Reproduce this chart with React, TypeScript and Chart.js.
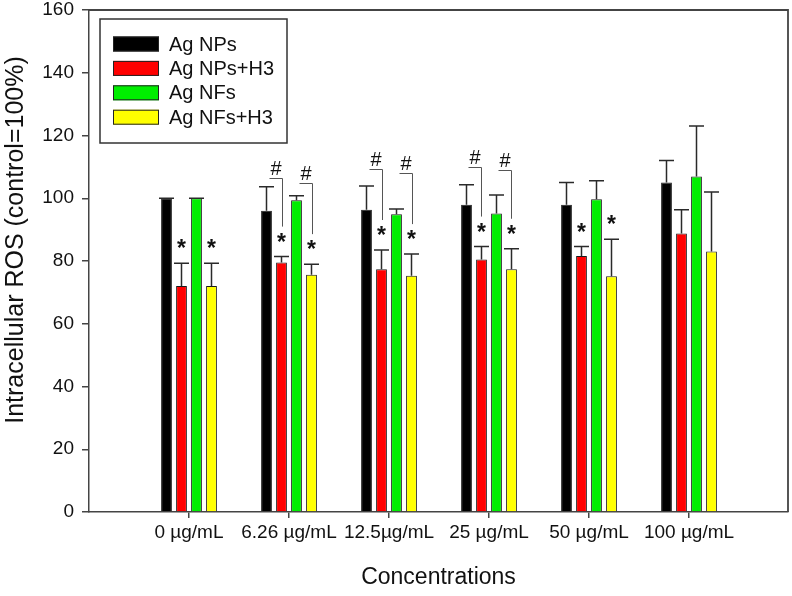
import React, { useEffect, useRef } from 'react';
import { Chart, registerables } from 'chart.js';

Chart.register(...registerables);

const categories = ['0 µg/mL', '6.26 µg/mL', '12.5µg/mL', '25 µg/mL', '50 µg/mL', '100 µg/mL'];
const seriesNames = ['Ag NPs', 'Ag NPs+H3', 'Ag NFs', 'Ag NFs+H3'];
const seriesColors = ['#000000', '#ff0000', '#00ee00', '#ffff00'];

const agNPs = [100, 96.0, 96.3, 97.9, 97.9, 105.0];
const agNPsErr = [0, 7.7, 7.6, 6.4, 7.1, 7.0];
const agNPsH3 = [72.0, 79.5, 77.4, 80.5, 81.6, 88.8];
const agNPsH3Err = [7.3, 1.9, 6.1, 4.1, 3.0, 7.5];
const agNFs = [100, 99.4, 94.9, 95.1, 99.7, 106.9];
const agNFsErr = [0, 1.4, 1.7, 5.9, 5.9, 16.1];
const agNFsH3 = [72.0, 75.6, 75.3, 77.4, 75.1, 83.0];
const agNFsH3Err = [7.3, 3.4, 6.9, 6.5, 11.8, 19.0];

const yMin = 0;
const yMax = 160;
const yStep = 20;

const xTitle = 'Concentrations';
const yTitle = 'Intracellular ROS (control=100%)';

// [category index, series index]
const starMarks = [
  [0, 1], [0, 3], [1, 1], [1, 3], [2, 1], [2, 3], [3, 1], [3, 3], [4, 1], [4, 3],
];
// [category index, series index, bracket level value]
const hashMarks = [
  [1, 1, 106.5], [1, 3, 104.9], [2, 1, 109.3], [2, 3, 108.0], [3, 1, 110.0], [3, 3, 109.0],
];

const FONT = "'Liberation Sans', Arial, sans-serif";
const AXIS = '#444444';
const TEXT = '#111111';

const values = [agNPs, agNPsH3, agNFs, agNFsH3];
const errors = [agNPsErr, agNPsH3Err, agNFsErr, agNFsH3Err];

const errorBarPlugin = {
  id: 'errorBars',
  afterDatasetsDraw(chart: any) {
    const ctx = chart.ctx;
    const y = chart.scales.y;
    ctx.save();
    ctx.strokeStyle = '#2a2a2a';
    ctx.lineWidth = 1.5;
    chart.data.datasets.forEach((ds: any, di: number) => {
      const meta = chart.getDatasetMeta(di);
      meta.data.forEach((el: any, i: number) => {
        const v = ds.data[i].y;
        const e = ds.errors[i];
        const capY = y.getPixelForValue(v + e);
        ctx.beginPath();
        ctx.moveTo(el.x, el.y);
        ctx.lineTo(el.x, capY);
        ctx.moveTo(el.x - 7.5, capY);
        ctx.lineTo(el.x + 7.5, capY);
        ctx.stroke();
      });
    });
    ctx.restore();
  },
};

const annotationPlugin = {
  id: 'sigMarks',
  afterDatasetsDraw(chart: any) {
    const ctx = chart.ctx;
    const y = chart.scales.y;
    const starCenter = (c: number, s: number) => {
      const ds: any = chart.data.datasets[s];
      return y.getPixelForValue(ds.data[c].y + ds.errors[c]) - 20;
    };
    ctx.save();
    ctx.fillStyle = TEXT;
    ctx.textAlign = 'center';
    ctx.textBaseline = 'alphabetic';
    ctx.font = `bold 23px ${FONT}`;
    starMarks.forEach(([c, s]) => {
      const el: any = chart.getDatasetMeta(s).data[c];
      ctx.fillText('*', el.x, starCenter(c, s) + 13);
    });
    ctx.strokeStyle = '#555555';
    ctx.lineWidth = 1;
    ctx.font = `20px ${FONT}`;
    hashMarks.forEach(([c, s, lv]) => {
      const el: any = chart.getDatasetMeta(s).data[c];
      const hy = Math.round(y.getPixelForValue(lv)) + 0.5;
      const x = Math.round(el.x) + 0.5;
      ctx.beginPath();
      ctx.moveTo(x - 13, hy);
      ctx.lineTo(x, hy);
      ctx.lineTo(x, starCenter(c, s) - 10);
      ctx.stroke();
      ctx.fillText('#', x - 6.5, hy - 4);
    });
    ctx.restore();
  },
};

const framePlugin = {
  id: 'frameAndLegend',
  afterDraw(chart: any) {
    const ctx = chart.ctx;
    const ca = chart.chartArea;
    ctx.save();
    ctx.strokeStyle = AXIS;
    ctx.lineWidth = 1.8;
    ctx.beginPath();
    ctx.moveTo(ca.left, ca.top);
    ctx.lineTo(ca.right, ca.top);
    ctx.lineTo(ca.right, ca.bottom);
    ctx.stroke();

    // y axis title
    ctx.save();
    ctx.translate(16, 240);
    ctx.rotate(-Math.PI / 2);
    ctx.font = `25px ${FONT}`;
    ctx.fillStyle = TEXT;
    ctx.textAlign = 'center';
    ctx.textBaseline = 'middle';
    ctx.fillText(yTitle, 0, 0);
    ctx.restore();

    // legend
    const lx = ca.left + 11;
    const ly = ca.top + 9;
    ctx.strokeStyle = '#333333';
    ctx.lineWidth = 1.5;
    ctx.strokeRect(lx, ly, 187, 124);
    ctx.font = `20px ${FONT}`;
    ctx.textBaseline = 'middle';
    ctx.textAlign = 'left';
    chart.data.datasets.forEach((ds: any, i: number) => {
      const cy = ca.top + 34 + 24.4 * i;
      ctx.fillStyle = ds.backgroundColor;
      ctx.fillRect(lx + 13, cy - 7.5, 46, 15);
      ctx.lineWidth = 1;
      ctx.strokeStyle = '#222222';
      ctx.strokeRect(lx + 13.5, cy - 7, 45, 14);
      ctx.fillStyle = TEXT;
      ctx.fillText(ds.label, lx + 69, cy + 1);
    });
    ctx.restore();
  },
};

export default function App() {
  const ref = useRef<HTMLCanvasElement | null>(null);

  useEffect(() => {
    if (!ref.current) return;
    Chart.defaults.font.family = FONT;
    const datasets = seriesNames.map((name, s) => ({
      label: name,
      data: values[s].map((v, i) => ({ x: i, y: v })),
      errors: errors[s],
      backgroundColor: seriesColors[s],
      borderColor: '#1a1a1a',
      borderWidth: 1,
      categoryPercentage: 0.6,
      barPercentage: 0.72,
    }));
    const chart = new Chart(ref.current, {
      type: 'bar',
      data: { datasets } as any,
      options: {
        responsive: false,
        animation: false,
        layout: { padding: { top: 10, right: 4, left: 0, bottom: 0 } },
        plugins: { legend: { display: false }, tooltip: { enabled: false } },
        scales: {
          x: {
            type: 'linear',
            min: -1,
            max: 5.99,
            offset: false,
            afterBuildTicks: (s: any) => {
              s.ticks = categories.map((_, i) => ({ value: i }));
            },
            afterFit: (s: any) => {
              s.height = 84;
              s.paddingLeft = 0;
              s.paddingRight = 0;
            },
            ticks: {
              callback: (_v: any, i: number) => categories[i],
              font: { size: 19, family: FONT },
              color: TEXT,
              padding: 3,
              autoSkip: false,
              maxRotation: 0,
              minRotation: 0,
            },
            grid: {
              display: true,
              drawOnChartArea: false,
              drawTicks: true,
              tickLength: 6,
              color: AXIS,
              lineWidth: 1.5,
              offset: false,
            },
            border: { display: true, color: AXIS, width: 1.5 },
            title: {
              display: true,
              text: xTitle,
              font: { size: 23, family: FONT },
              color: TEXT,
              padding: { top: 0, bottom: 5 },
            },
          } as any,
          y: {
            min: yMin,
            max: yMax,
            afterFit: (s: any) => {
              s.width = 89;
              s.paddingTop = 0;
              s.paddingBottom = 0;
            },
            ticks: {
              stepSize: yStep,
              font: { size: 19, family: FONT },
              color: TEXT,
              padding: 8,
            },
            grid: {
              display: true,
              drawOnChartArea: false,
              drawTicks: true,
              tickLength: 7,
              color: AXIS,
              lineWidth: 1.5,
            },
            border: { display: true, color: AXIS, width: 1.5 },
            title: { display: false },
          },
        },
      },
      plugins: [errorBarPlugin, annotationPlugin, framePlugin],
    } as any);
    return () => chart.destroy();
  }, []);

  return (
    <div style={{ position: 'fixed', left: 0, top: 0, width: 792, height: 596, background: '#fff' }}>
      <canvas ref={ref} width={792} height={596} />
    </div>
  );
}
